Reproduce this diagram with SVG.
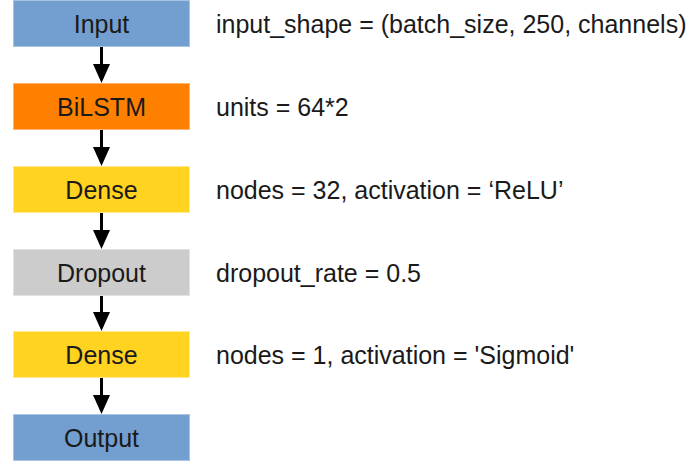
<svg xmlns="http://www.w3.org/2000/svg" width="693" height="464" viewBox="0 0 693 464">
<style>
.box{stroke-width:1}
.lbl{font-family:"Liberation Sans",Arial,sans-serif;font-size:25px;fill:#1a1a1a;text-anchor:middle}
.desc{font-family:"Liberation Sans",Arial,sans-serif;font-size:25px;fill:#1a1a1a}
.edge{stroke:#000;stroke-width:3;fill:none}
</style>
<rect width="693" height="464" fill="#fff"/>
<g id="connectors">
<line class="edge" x1="101.5" y1="46" x2="101.5" y2="66"/><polygon points="93,64 110,64 101.5,83"/>
<line class="edge" x1="101.5" y1="129" x2="101.5" y2="149"/><polygon points="93,147 110,147 101.5,166"/>
<line class="edge" x1="101.5" y1="212" x2="101.5" y2="232"/><polygon points="93,230 110,230 101.5,249"/>
<line class="edge" x1="101.5" y1="295" x2="101.5" y2="314"/><polygon points="93,312 110,312 101.5,331"/>
<line class="edge" x1="101.5" y1="377" x2="101.5" y2="397"/><polygon points="93,395 110,395 101.5,414"/>
</g>
<g id="node-input">
<rect class="box" x="13.5" y="0.5" width="176" height="46" fill="#729fcf" stroke="#a9c4e3"/>
<text class="lbl" x="101.5" y="32.5">Input</text>
</g>
<g id="node-bilstm">
<rect class="box" x="13.5" y="83.5" width="176" height="46" fill="#ff8000" stroke="#ffb36b"/>
<text class="lbl" x="101.5" y="115.5">BiLSTM</text>
</g>
<g id="node-dense1">
<rect class="box" x="13.5" y="166.5" width="176" height="46" fill="#ffd320" stroke="#ffe88f"/>
<text class="lbl" x="101.5" y="198.5">Dense</text>
</g>
<g id="node-dropout">
<rect class="box" x="13.5" y="249.5" width="176" height="46" fill="#cccccc" stroke="#e3e3e3"/>
<text class="lbl" x="101.5" y="281.5">Dropout</text>
</g>
<g id="node-dense2">
<rect class="box" x="13.5" y="331.5" width="176" height="46" fill="#ffd320" stroke="#ffe88f"/>
<text class="lbl" x="101.5" y="363.5">Dense</text>
</g>
<g id="node-output">
<rect class="box" x="13.5" y="414.5" width="176" height="46" fill="#729fcf" stroke="#a9c4e3"/>
<text class="lbl" x="101.5" y="446.5">Output</text>
</g>
<g id="descriptions">
<text class="desc" x="216" y="32.5">input_shape = (batch_size, 250, channels)</text>
<text class="desc" x="216" y="115.5">units = 64*2</text>
<text class="desc" x="216" y="198.5">nodes = 32, activation = ‘ReLU’</text>
<text class="desc" x="216" y="281.5">dropout_rate = 0.5</text>
<text class="desc" x="216" y="363.5">nodes = 1, activation = 'Sigmoid'</text>
</g>
</svg>
